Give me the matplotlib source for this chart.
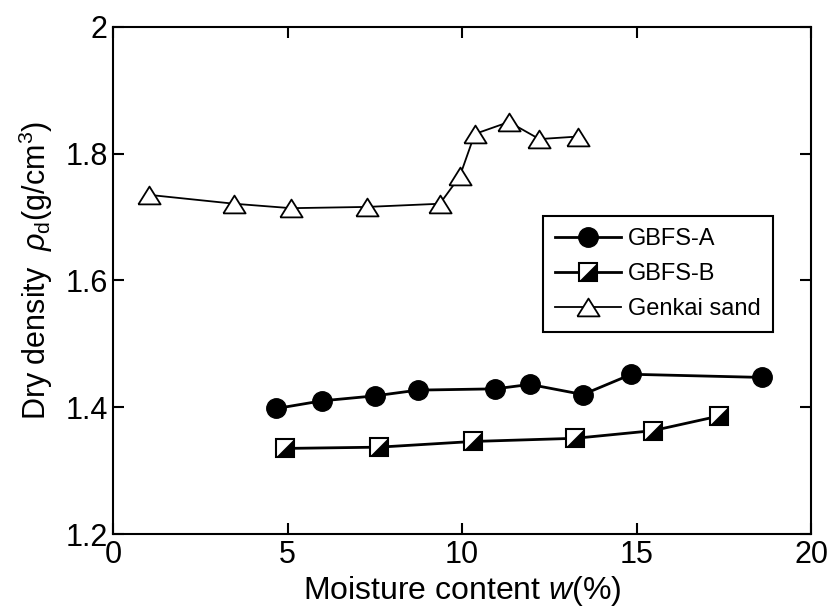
import numpy as np
import matplotlib.pyplot as plt
from matplotlib.lines import Line2D

plt.rcParams['font.family'] = ['Liberation Sans', 'DejaVu Sans']
plt.rcParams['mathtext.fontset'] = 'custom'
plt.rcParams['mathtext.rm'] = 'Liberation Sans'
plt.rcParams['mathtext.it'] = 'Liberation Sans:italic'

# GBFS-A
w_a = [4.68, 5.97, 7.51, 8.73, 10.95, 11.94, 13.46, 14.85, 18.60]
rho_a = [1.398, 1.410, 1.418, 1.427, 1.429, 1.436, 1.420, 1.452, 1.447]

# GBFS-B
w_b = [4.91, 7.61, 10.31, 13.24, 15.46, 17.35]
rho_b = [1.335, 1.337, 1.346, 1.351, 1.363, 1.386]

# Genkai sand
w_g = [1.03, 3.47, 5.10, 7.28, 9.36, 9.93, 10.36, 11.34, 12.21, 13.31]
rho_g = [1.735, 1.721, 1.714, 1.716, 1.721, 1.764, 1.831, 1.850, 1.823, 1.827]

fig = plt.figure(figsize=(8.32, 6.11), dpi=100)
ax = fig.add_axes([0.136, 0.126, 0.839, 0.830])

tri = [(-1.0, -0.8), (1.0, -0.8), (0.0, 0.8), (-1.0, -0.8)]
half = [(-1, -1), (1, -1), (1, 1), (-1, -1)]

ax.plot(w_a, rho_a, color='black', lw=2.0, marker='o', ms=14,
        mfc='black', mec='black', zorder=3)
ax.plot(w_b, rho_b, color='black', lw=2.0, marker='s', ms=13,
        mfc='white', mec='black', mew=1.5, zorder=3)
ax.plot(w_b, rho_b, ls='none', marker=half, ms=13,
        mfc='black', mec='black', mew=0.5, zorder=4)
ax.plot(w_g, rho_g, color='black', lw=1.3, marker=tri, ms=16,
        mfc='white', mec='black', mew=1.3, zorder=3)

ax.set_xlim(0, 20)
ax.set_ylim(1.2, 2.0)
ax.set_xticks([0, 5, 10, 15, 20])
ax.set_xticklabels(['0', '5', '10', '15', '20'])
ax.set_yticks([1.2, 1.4, 1.6, 1.8, 2.0])
ax.set_yticklabels(['1.2', '1.4', '1.6', '1.8', '2'])
ax.tick_params(direction='in', length=8, width=1.5, labelsize=22,
               top=True, right=True, pad=4)
for s in ax.spines.values():
    s.set_linewidth(1.5)

ax.set_xlabel(r'Moisture content $\it{w}$(%)', fontsize=23, labelpad=3)
ax.set_ylabel(r'Dry density  $\rho_{\rm d}$(g/cm$^3$)', fontsize=22)
ax.yaxis.set_label_coords(-0.083, 0.52)

h_a = Line2D([], [], color='black', lw=2.0, marker='o', ms=14, mfc='black', mec='black')
h_b1 = Line2D([], [], color='black', lw=2.0, marker='s', ms=13, mfc='white', mec='black', mew=1.5)
h_b2 = Line2D([], [], ls='none', marker=half, ms=13, mfc='black', mec='black', mew=0.5)
h_g = Line2D([], [], color='black', lw=1.3, marker=tri, ms=16, mfc='white', mec='black', mew=1.3)

leg = ax.legend([h_a, (h_b1, h_b2), h_g], ['GBFS-A', 'GBFS-B', 'Genkai sand'],
                loc='upper left', bbox_to_anchor=(0.616, 0.627), fontsize=17,
                numpoints=1, handlelength=2.8, handletextpad=0.3,
                borderpad=0.5, labelspacing=0.55, fancybox=False, framealpha=1,
                borderaxespad=0)
leg.get_frame().set_edgecolor('black')
leg.get_frame().set_linewidth(1.5)

fig.savefig('out.png', dpi=100)
